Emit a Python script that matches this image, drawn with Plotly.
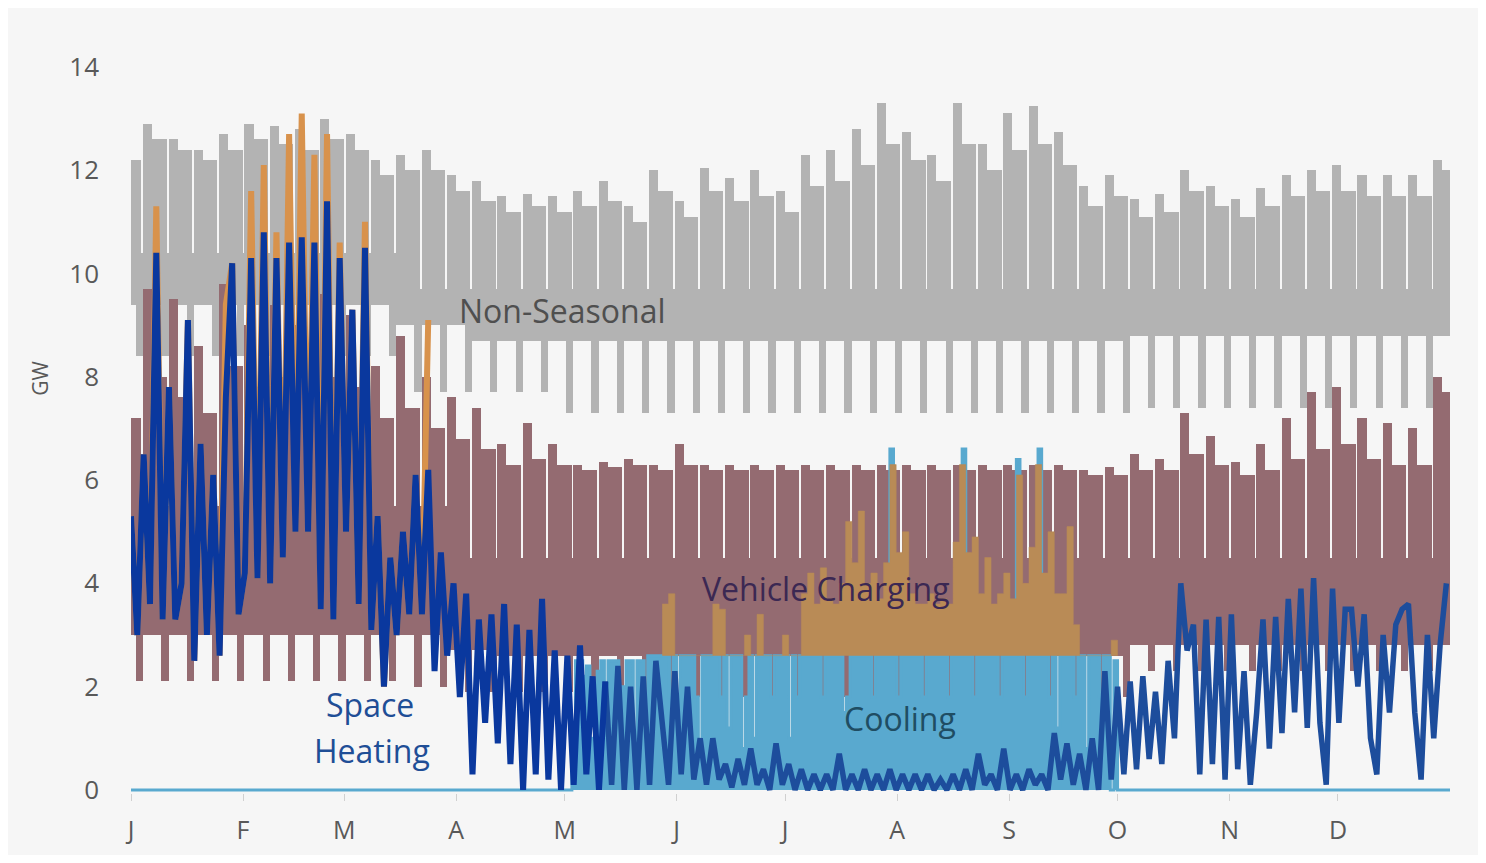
import numpy as np
import plotly.graph_objects as go

# ---------------- axis labels ----------------
MONTH_LABELS = ["J", "F", "M", "A", "M", "J", "J", "A", "S", "O", "N", "D"]
MONTH_START_DAYS = [0, 31, 59, 90, 120, 151, 181, 212, 243, 273, 304, 334]
Y_TICKS = [0, 2, 4, 6, 8, 10, 12, 14]

# ---------------- weekly data (53 weekly cycles, first Monday at day -3.6) ----------------
FIRST_MONDAY = -3.6
N_WEEKS = 53

# Non-Seasonal load (GW)
gray_peak = [12.3, 12.9, 12.6, 12.4, 12.7, 12.9, 12.85, 12.8, 13.0, 12.7, 12.2, 12.3, 12.4, 11.9, 11.8,
             11.5, 11.55, 11.5, 11.6, 11.8, 11.3, 12.0, 11.4, 12.05, 11.85, 12.0, 11.6, 12.3, 12.4, 12.8,
             13.3, 12.75, 12.3, 13.3, 12.5, 13.1, 13.25, 12.75, 11.7, 11.9, 11.45, 11.55, 12.0, 11.7,
             11.45, 11.65, 11.9, 12.0, 12.1, 11.9, 11.9, 11.9, 12.2]
gray_plateau = [12.2, 12.6, 12.4, 12.2, 12.4, 12.6, 12.5, 12.4, 12.6, 12.4, 11.9, 12.0, 12.0, 11.6, 11.4,
                11.2, 11.3, 11.2, 11.3, 11.4, 11.0, 11.6, 11.1, 11.6, 11.4, 11.5, 11.2, 11.7, 11.8, 12.1,
                12.5, 12.2, 11.8, 12.5, 12.0, 12.4, 12.5, 12.1, 11.3, 11.5, 11.1, 11.2, 11.6, 11.3,
                11.1, 11.3, 11.5, 11.6, 11.6, 11.5, 11.5, 11.5, 12.0]
gray_wd_lo = [9.4, 9.4, 9.4, 9.4, 9.4, 9.4, 9.4, 9.4, 9.4, 9.4, 9.4, 9.0, 9.0, 9.0, 8.7,
              8.7, 8.7, 8.7, 8.7, 8.7, 8.7, 8.7, 8.7, 8.7, 8.7, 8.7, 8.7, 8.7, 8.7, 8.7,
              8.7, 8.7, 8.7, 8.7, 8.7, 8.7, 8.7, 8.7, 8.7, 8.7, 8.8, 8.8, 8.8, 8.8,
              8.8, 8.8, 8.8, 8.8, 8.8, 8.8, 8.8, 8.8, 8.8]
gray_we_lo = [8.4, 8.4, 8.4, 8.4, 8.4, 8.4, 8.4, 8.4, 8.4, 8.4, 8.4, 7.7, 7.7, 7.7, 7.7,
              7.7, 7.7, 7.3, 7.3, 7.3, 7.3, 7.3, 7.3, 7.3, 7.3, 7.3, 7.3, 7.3, 7.3, 7.3,
              7.3, 7.3, 7.3, 7.3, 7.3, 7.3, 7.3, 7.3, 7.3, 7.3, 7.4, 7.4, 7.4, 7.4,
              7.4, 7.4, 7.4, 7.4, 7.4, 7.4, 7.4, 7.4, 7.4]
gray_we_hi = [10.4, 10.4, 10.4, 10.4, 10.4, 10.4, 10.4, 10.4, 10.4, 10.4, 10.4, 9.7, 9.7, 9.7, 9.7,
              9.7, 9.7, 9.7, 9.7, 9.7, 9.7, 9.7, 9.7, 9.7, 9.7, 9.7, 9.7, 9.7, 9.7, 9.7,
              9.7, 9.7, 9.7, 9.7, 9.7, 9.7, 9.7, 9.7, 9.7, 9.7, 9.7, 9.7, 9.7, 9.7,
              9.7, 9.7, 9.7, 9.7, 9.7, 9.7, 9.7, 9.7, 9.7]

# Vehicle Charging (GW)
brown_peak = [8.0, 9.7, 9.5, 8.6, 9.8, 9.0, 9.4, 9.0, 9.6, 9.2, 8.2, 8.8, 8.0, 7.6, 7.4,
              6.7, 7.1, 6.7, 6.3, 6.35, 6.4, 6.3, 6.7, 6.3, 6.3, 6.3, 6.3, 6.3, 6.3, 6.3,
              6.3, 6.3, 6.3, 6.3, 6.3, 6.3, 6.3, 6.3, 6.2, 6.25, 6.5, 6.4, 7.3, 6.85,
              6.35, 6.7, 7.2, 7.7, 7.8, 7.2, 7.1, 7.0, 8.0]
brown_plateau = [7.2, 8.0, 7.6, 7.3, 8.2, 7.8, 8.0, 7.6, 8.0, 7.8, 7.2, 7.4, 7.0, 6.8, 6.6,
                 6.3, 6.4, 6.3, 6.2, 6.25, 6.3, 6.2, 6.3, 6.2, 6.2, 6.2, 6.2, 6.2, 6.2, 6.2,
                 6.2, 6.2, 6.2, 6.2, 6.2, 6.2, 6.2, 6.2, 6.1, 6.1, 6.2, 6.2, 6.5, 6.3,
                 6.1, 6.2, 6.4, 6.6, 6.7, 6.4, 6.3, 6.3, 7.7]
brown_gap_floor = [5.5, 5.5, 5.5, 5.5, 5.5, 5.5, 5.5, 5.5, 5.5, 5.5, 5.5, 5.5, 5.5, 4.5, 4.5,
                   4.5, 4.5, 4.5, 4.5, 4.5, 4.5, 4.5, 4.5, 4.5, 4.5, 4.5, 4.5, 4.5, 4.5, 4.5,
                   4.5, 4.5, 4.5, 4.5, 4.5, 4.5, 4.5, 4.5, 4.5, 4.5, 4.5, 4.5, 4.5, 4.5,
                   4.5, 4.5, 4.5, 4.5, 4.5, 4.5, 4.5, 4.5, 4.5]
brown_wd_lo = [3.0, 3.0, 3.0, 3.0, 3.0, 3.0, 3.0, 3.0, 3.0, 3.0, 3.0, 3.0, 3.0, 2.7, 2.7,
               2.6, 2.6, 2.6, 2.6, 2.6, 2.6, 2.6, 2.6, 2.6, 2.6, 2.6, 2.6, 2.6, 2.6, 2.6,
               2.6, 2.6, 2.6, 2.6, 2.6, 2.6, 2.6, 2.6, 2.6, 2.6, 2.8, 2.8, 2.8, 2.8,
               2.8, 2.8, 2.8, 2.8, 2.8, 2.8, 2.8, 2.8, 2.8]
brown_we_lo = [2.1, 2.1, 2.1, 2.1, 2.1, 2.1, 2.1, 2.1, 2.1, 2.1, 2.1, 2.0, 2.0, 1.9, 1.9,
               1.9, 1.9, 1.9, 1.8, 1.8, 1.8, 1.8, 1.8, 1.8, 1.8, 1.8, 1.8, 1.8, 1.8, 1.8,
               1.8, 1.8, 1.8, 1.8, 1.8, 1.8, 1.8, 1.8, 1.8, 1.8, 2.3, 2.3, 2.3, 2.3,
               2.3, 2.3, 2.3, 2.3, 2.3, 2.3, 2.3, 2.3, 2.3]

# ---------------- sub-weekly samples (every 1.75 days from Jan 1) ----------------
SAMPLE_STEP = 1.75

# Space Heating (GW), samples j = 0..208
heating = [
    5.3, 3.0, 6.5, 3.6, 10.4, 3.3, 7.8, 3.3, 4.0, 9.1,
    2.5, 6.7, 3.0, 6.1, 2.6, 7.6, 10.2, 3.4, 4.2, 10.3,
    4.1, 10.8, 4.0, 10.3, 4.5, 10.6, 5.0, 10.7, 5.0, 10.6,
    3.5, 11.4, 3.3, 10.3, 5.0, 9.3, 3.6, 10.5, 3.1, 5.3,
    2.0, 4.5, 3.0, 5.0, 3.4, 6.1, 3.4, 6.2, 2.3, 4.6,
    2.6, 4.0, 1.8, 3.8, 0.3, 3.3, 1.3, 3.4, 0.9, 3.6,
    0.5, 3.2, 0.0, 3.1, 0.3, 3.7, 0.2, 2.7, 0.0, 2.6,
    0.1, 2.8, 0.3, 2.2, 0.0, 2.1, 0.1, 2.4, 0.0, 2.0,
    0.0, 2.2, 0.1, 2.5, 1.2, 0.1, 2.3, 0.3, 2.0, 0.2,
    1.0, 0.1, 1.0, 0.2, 0.5, 0.05, 0.6, 0.1, 0.8, 0.1,
    0.4, 0.0, 0.9, 0.1, 0.5, 0.0, 0.4, 0.0, 0.3, 0.0,
    0.3, 0.0, 0.7, 0.0, 0.3, 0.0, 0.4, 0.0, 0.3, 0.0,
    0.4, 0.0, 0.3, 0.0, 0.3, 0.0, 0.3, 0.0, 0.2, 0.0,
    0.3, 0.0, 0.4, 0.0, 0.7, 0.1, 0.3, 0.0, 0.8, 0.0,
    0.3, 0.0, 0.4, 0.1, 0.3, 0.0, 1.1, 0.2, 0.9, 0.1,
    0.7, 0.0, 1.0, 0.0, 2.3, 0.2, 2.0, 0.3, 2.1, 0.4,
    2.2, 0.6, 1.9, 0.5, 2.5, 1.0, 4.0, 2.7, 3.2, 0.3,
    3.3, 0.5, 3.35, 0.2, 3.4, 0.4, 2.3, 0.1, 1.5, 3.3,
    0.8, 3.35, 1.1, 3.7, 1.5, 3.9, 1.2, 4.1, 1.3, 0.1,
    3.9, 1.3, 3.5, 3.5, 2.0, 3.4, 1.0, 0.3, 3.0, 1.5,
    3.2, 3.5, 3.6, 1.5, 0.2, 3.0, 1.0, 2.8, 4.0,
]
HEATING_COLOR_SPLIT = 75  # sample where the line turns to the lighter summer tone

# unlabeled orange series, winter part (samples j = 0..47), drawn as a line behind heating
orange_winter = [
    5.3, 3.0, 6.5, 3.6, 11.3, 3.3, 7.8, 3.3, 4.0, 9.1,
    2.5, 6.7, 3.0, 6.1, 2.6, 9.4, 10.2, 3.4, 4.2, 11.6,
    4.1, 12.1, 4.0, 10.8, 4.5, 12.7, 5.0, 13.1, 5.0, 12.3,
    3.5, 12.7, 3.3, 10.6, 5.0, 9.3, 3.6, 11.0, 3.1, 5.3,
    2.0, 4.5, 3.0, 5.0, 3.4, 6.1, 3.4, 9.1,
]
# orange series, summer part (samples j = 84..156), drawn as a band above ORANGE_FLOOR
ORANGE_SUMMER_FIRST = 84
ORANGE_FLOOR = 2.6
orange_summer = [
    3.6, 3.8, 2.6, 2.6, 2.6, 2.6, 2.6, 2.6, 3.6, 3.5,
    2.6, 2.6, 2.6, 3.0, 2.6, 3.4, 2.6, 2.6, 2.6, 3.0,
    2.6, 2.6, 3.8, 4.2, 3.6, 4.3, 3.7, 3.6, 4.0, 5.2,
    4.4, 5.4, 4.0, 4.2, 3.7, 4.4, 6.3, 4.6, 5.0, 3.8,
    3.6, 3.6, 3.8, 3.6, 3.7, 3.6, 4.8, 6.3, 4.6, 4.9,
    3.8, 4.5, 3.6, 3.8, 4.2, 3.7, 6.1, 4.0, 4.7, 6.3,
    4.2, 5.0, 3.8, 3.8, 5.1, 3.2, 2.6, 2.6, 2.6, 2.6,
    2.6, 2.9, 2.6,
]

# Cooling (GW), daily values, days 119..279 (outside this range the series is 0)
COOLING_FIRST_DAY = 119
cooling_summer = [
    0.0, 0.0, 0.0, 1.2, 2.5, 2.5, 2.2,
    2.4, 1.0, 0.5, 2.3, 2.5, 1.2, 2.5,
    2.5, 2.5, 1.5, 2.0, 2.5, 2.5, 0.8,
    2.5, 2.5, 1.8, 2.6, 2.6, 2.6, 2.6,
    2.6, 2.6, 1.8, 2.6, 1.0, 2.6, 2.6,
    2.6, 2.6, 1.8, 0.8, 2.6, 2.6, 2.6,
    2.6, 2.6, 1.8, 2.6, 1.2, 2.6, 2.6,
    2.6, 0.8, 1.8, 2.6, 1.0, 2.6, 2.6,
    2.6, 2.6, 1.8, 2.6, 2.6, 2.6, 2.6,
    1.0, 2.6, 1.8, 2.6, 2.6, 2.6, 2.6,
    2.6, 2.6, 1.8, 2.6, 2.6, 2.6, 2.6,
    2.6, 1.5, 1.8, 2.6, 2.6, 2.6, 2.6,
    2.6, 2.6, 1.8, 2.6, 2.6, 2.6, 2.6,
    6.6, 2.6, 1.8, 2.6, 2.6, 2.6, 2.6,
    2.6, 2.6, 1.8, 2.6, 2.6, 2.6, 2.6,
    2.6, 2.6, 1.8, 2.6, 2.6, 2.6, 6.6,
    2.6, 2.6, 1.8, 2.6, 2.6, 2.6, 2.6,
    2.6, 2.6, 1.8, 2.6, 2.6, 2.6, 2.6,
    6.4, 2.6, 1.8, 2.6, 2.6, 2.6, 6.6,
    2.6, 2.6, 1.8, 2.6, 1.2, 2.6, 2.6,
    2.6, 2.6, 1.8, 2.6, 2.6, 0.8, 2.6,
    2.6, 2.6, 1.8, 2.6, 2.6, 0.0, 2.5,
    0.0, 0.0, 0.0, 0.0, 0.0, 0.0, 0.0,
]
DAYS_IN_YEAR = 365

# ---------------- labels ----------------
LABELS = [
    ("Non-Seasonal", 119.5, 9.28, "#4f4f4f"),
    ("Vehicle Charging", 192.3, 3.91, "#3b2853"),
    ("Cooling", 212.8, 1.39, "#1f4d63"),
    ("Space", 66.1, 1.65, "#1f4e96"),
    ("Heating", 66.7, 0.77, "#1f4e96"),
]

# ---------------- colours ----------------
C_GRAY = "#b3b3b3"
C_BROWN = "#946b71"
C_ORANGE_W = "#d8924c"
C_ORANGE_S = "#b98b56"
C_COOL = "#59a9cf"
C_HEAT_W = "#0a389e"
C_HEAT_S = "#1d4d9c"
BG = "#f6f6f6"

mondays = FIRST_MONDAY + 7 * np.arange(N_WEEKS)


def week_bars(start, span, base, top, color):
    base = np.asarray(base, dtype=float)
    top = np.asarray(top, dtype=float)
    return go.Bar(
        x=mondays + start + span / 2.0,
        y=top - base,
        base=base,
        width=span,
        marker=dict(color=color, line=dict(width=0)),
        showlegend=False,
        hoverinfo="skip",
    )


fig = go.Figure()

# Non-Seasonal: weekday body, early-week spike, weekend dip
fig.add_trace(week_bars(0.0, 6.5, gray_wd_lo, gray_plateau, C_GRAY))
fig.add_trace(week_bars(0.0, 2.5, gray_wd_lo, gray_peak, C_GRAY))
fig.add_trace(week_bars(5.0, 2.0, gray_we_lo, gray_we_hi, C_GRAY))

# Vehicle Charging
fig.add_trace(week_bars(0.0, 7.0, brown_wd_lo, brown_gap_floor, C_BROWN))
fig.add_trace(week_bars(5.0, 2.0, brown_we_lo, brown_wd_lo, C_BROWN))
fig.add_trace(week_bars(0.0, 6.5, brown_gap_floor, brown_plateau, C_BROWN))
fig.add_trace(week_bars(0.0, 2.5, brown_gap_floor, brown_peak, C_BROWN))

# Cooling (daily, zero outside the cooling season)
cool_days = np.arange(DAYS_IN_YEAR + 1)
cool_vals = np.zeros(DAYS_IN_YEAR + 1)
cool_vals[COOLING_FIRST_DAY:COOLING_FIRST_DAY + len(cooling_summer)] = cooling_summer
fig.add_trace(go.Scatter(x=cool_days, y=cool_vals, mode="lines",
                         line=dict(width=3, shape="hv", color=C_COOL),
                         fill="tozeroy", fillcolor=C_COOL, showlegend=False, hoverinfo="skip"))

# orange summer band (over cooling, starting at the cooling plateau)
xs_orange = SAMPLE_STEP * (ORANGE_SUMMER_FIRST + np.arange(len(orange_summer)))
fig.add_trace(go.Scatter(x=xs_orange, y=[ORANGE_FLOOR] * len(orange_summer), mode="lines",
                         line=dict(width=0, shape="hv"), showlegend=False, hoverinfo="skip"))
fig.add_trace(go.Scatter(x=xs_orange, y=orange_summer, mode="lines",
                         line=dict(width=0.5, shape="hv", color=C_ORANGE_S),
                         fill="tonexty", fillcolor=C_ORANGE_S, showlegend=False, hoverinfo="skip"))

# orange winter line
xs_ow = SAMPLE_STEP * np.arange(len(orange_winter))
fig.add_trace(go.Scatter(x=xs_ow, y=orange_winter, mode="lines",
                         line=dict(width=6, color=C_ORANGE_W),
                         showlegend=False, hoverinfo="skip"))

# Space Heating line
xs_h = SAMPLE_STEP * np.arange(len(heating))
k = HEATING_COLOR_SPLIT
fig.add_trace(go.Scatter(x=xs_h[k:], y=heating[k:], mode="lines",
                         line=dict(width=5.5, color=C_HEAT_S),
                         showlegend=False, hoverinfo="skip"))
fig.add_trace(go.Scatter(x=xs_h[:k + 1], y=heating[:k + 1], mode="lines",
                         line=dict(width=6, color=C_HEAT_W),
                         showlegend=False, hoverinfo="skip"))

for text, xd, yv, col in LABELS:
    fig.add_annotation(x=xd, y=yv, xref="x", yref="y", text=text, showarrow=False,
                       font=dict(family="Open Sans", size=32, color=col),
                       xanchor="center", yanchor="middle")

fig.add_annotation(x=-0.069, y=7.98, xref="paper", yref="y", text="GW", showarrow=False,
                   textangle=-90, font=dict(family="Open Sans", size=21, color="#595959"),
                   xanchor="center", yanchor="middle")

fig.update_layout(
    width=1470, height=847,
    margin=dict(l=123, r=28, t=59, b=62, autoexpand=False),
    paper_bgcolor=BG, plot_bgcolor=BG,
    barmode="overlay", bargap=0,
    showlegend=False,
    font=dict(family="Open Sans", color="#595959"),
)
fig.update_xaxes(range=[0, DAYS_IN_YEAR], tickvals=MONTH_START_DAYS, ticktext=MONTH_LABELS,
                 ticks="outside", ticklen=7, tickwidth=1, tickcolor="#d0d0d0",
                 tickfont=dict(size=25, color="#595959"), ticklabelstandoff=8,
                 showgrid=False, zeroline=False, showline=False, automargin=False)
fig.update_yaxes(range=[-0.06, 14], tickvals=Y_TICKS, ticks="",
                 tickfont=dict(size=26, color="#595959"), ticklabelstandoff=31,
                 showgrid=False, zeroline=False, showline=False, automargin=False)

fig.write_html("out.html")
